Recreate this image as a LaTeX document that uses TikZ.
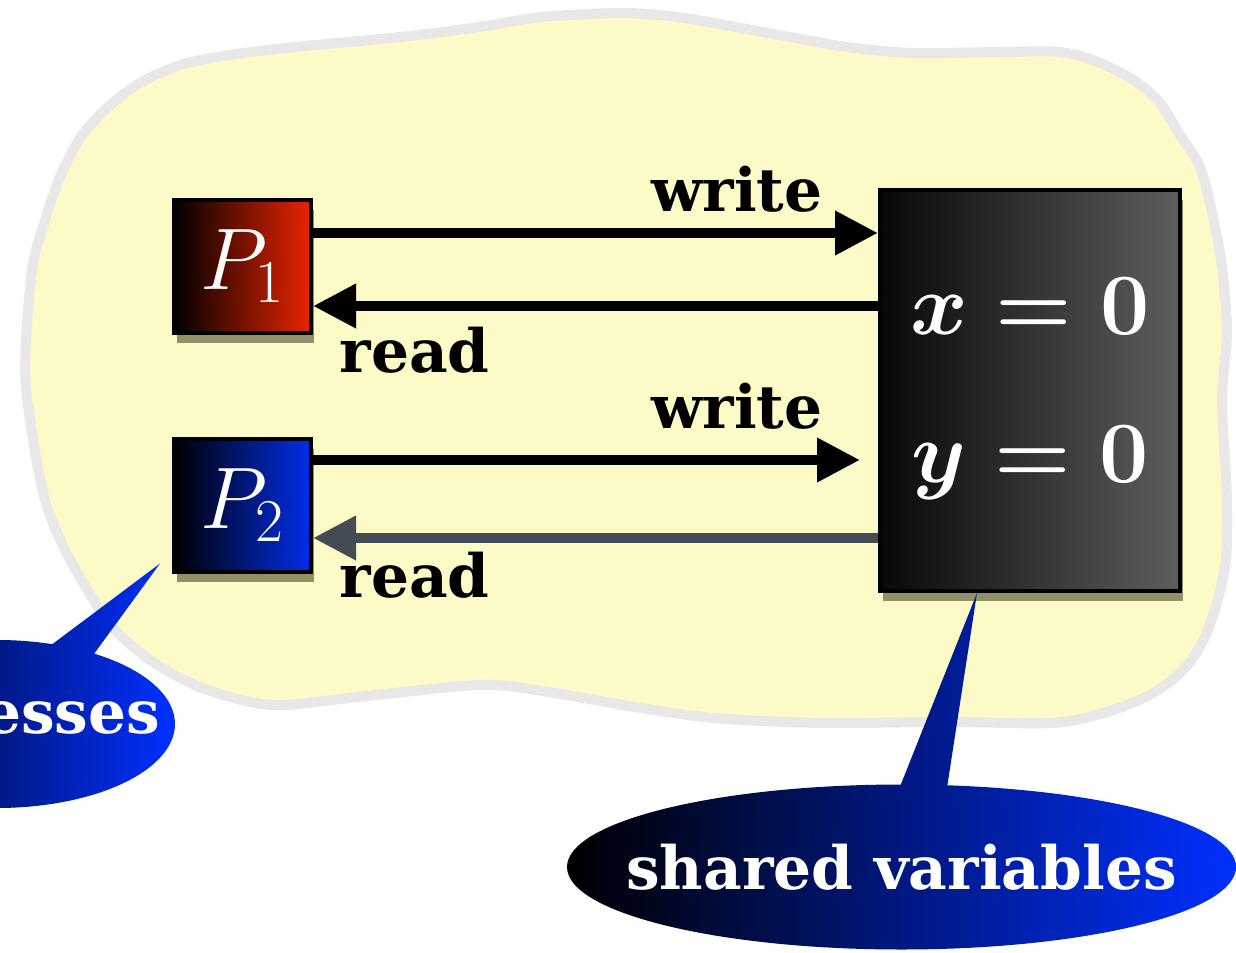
\documentclass[tikz,border=0pt]{standalone}
\usepackage{fontspec}
\newfontfamily\slabfont{DejaVu Serif}
\usepackage{tikz}
\usetikzlibrary{arrows.meta}
\usetikzlibrary{shapes.callouts}
\usetikzlibrary{shadows}
\usetikzlibrary{calc}
\definecolor{blobfill}{RGB}{252,250,198}
\definecolor{blobedge}{RGB}{232,232,232}
\definecolor{pred}{RGB}{234,36,0}
\definecolor{pblue}{RGB}{0,46,235}
\definecolor{memgray}{RGB}{94,94,94}
\definecolor{readgray}{RGB}{67,76,85}
\definecolor{bubbleblue}{RGB}{0,48,255}
\definecolor{shadowtone}{RGB}{60,58,30}

\begin{document}
\begin{tikzpicture}[
    boxshadow/.style={drop shadow={opacity=0.55, fill=shadowtone, shadow xshift=0.03cm, shadow yshift=-0.1cm}},
    proc/.style={draw=black, line width=0.04cm, minimum width=1.37cm, minimum height=1.33cm, inner sep=0pt,
                 text=white, font=\fontsize{25}{28}\selectfont, boxshadow},
    val/.style={anchor=base, inner sep=0pt, text=white, font=\fontsize{24}{28}\selectfont\boldmath},
    arr/.style={line width=0.1cm, -{Triangle[length=0.43cm, width=0.42cm]}},
    lbl/.style={anchor=base, inner sep=0pt, font=\slabfont\bfseries\fontsize{17}{20}\selectfont},
    bubble/.style={ellipse callout, inner sep=0pt, text=white, left color=black, right color=bubbleblue,
                   font=\slabfont\bfseries\fontsize{17}{20}\selectfont}
]
                 \useasboundingbox (0,0) rectangle (12.36,9.52);
                 \clip (0,0) rectangle (12.36,9.52);
                 \draw[blobedge, fill=blobfill, line width=0.1cm] plot[smooth cycle, tension=0.5] coordinates {
                     (0.32,6.82) (0.45,7.32) (0.60,7.75) (0.80,8.14) (1.07,8.44) (1.40,8.69) (1.87,8.89)
                     (2.67,9.02) (4.00,9.15) (4.79,9.25) (5.42,9.35) (6.21,9.39) (6.77,9.35) (7.36,9.25)
                     (7.95,9.14) (8.55,9.04) (9.14,8.99) (10.00,9.00) (10.60,9.00) (10.98,8.90) (11.35,8.71)
                     (11.60,8.49) (11.80,8.17) (12.00,7.85) (12.13,7.35) (12.22,6.85) (12.27,6.19) (12.22,5.52)
                     (12.27,4.52) (12.25,3.85) (12.08,3.22) (11.85,2.84) (11.50,2.57) (11.00,2.38) (10.50,2.29)
                     (9.48,2.30) (8.20,2.29) (7.14,2.34) (6.35,2.45) (5.36,2.62) (4.77,2.67) (3.58,2.55)
                     (2.71,2.47) (2.02,2.64) (1.53,2.90) (1.17,3.20) (0.91,3.56) (0.64,4.04) (0.45,4.52)
                     (0.32,5.19) (0.25,5.85)};
                 \node[proc, left color=black, right color=pred] (p1) at (2.425,6.855) {$P_1$};
                 \node[proc, left color=black, right color=pblue] (p2) at (2.425,4.47) {$P_2$};
                 \node[draw=black, line width=0.04cm, minimum width=3.0cm, minimum height=4.01cm,
                       left color=black!97, right color=memgray, boxshadow] (mem) at (10.30,5.615) {};
                 \node[val] (xv) at ([yshift=0.555cm]mem.center) {$x=0$};
                 \node[val] (yv) at ([yshift=-0.915cm]mem.center) {$y=0$};
                 \coordinate (w1) at ([yshift=0.335cm]p1.east);
                 \coordinate (r1) at ([yshift=-0.395cm]p1.east);
                 \coordinate (w2) at ([yshift=0.45cm]p2.east);
                 \coordinate (r2) at ([yshift=-0.33cm]p2.east);
                 \draw[arr] (w1) -- (w1 -| mem.west) node[lbl, pos=0.75, yshift=0.21cm] {write};
                 \draw[arr] (r1 -| mem.west) -- (r1) node[lbl, pos=0.82, yshift=-0.66cm] {read};
                 \draw[arr, shorten >=0.18cm] (w2) -- (w2 -| mem.west) node[lbl, pos=0.75, yshift=0.32cm] {write};
                 \draw[arr, readgray] (r2 -| mem.west) -- (r2) node[lbl, text=black, pos=0.82, yshift=-0.59cm] {read};
                 \node[bubble, minimum width=6.69cm, minimum height=1.65cm, callout pointer arc=8,
                       callout absolute pointer={([xshift=-0.53cm]mem.south)}] (shv) at (9.015,0.85) {\makebox[0pt]{shared variables}};
                 \node[bubble, minimum width=3.56cm, minimum height=1.68cm, callout pointer arc=15,
                       callout absolute pointer={([xshift=-0.12cm,yshift=0.1cm]p2.south west)}] (prc) at (-0.03,2.28) {\makebox[0pt]{processes}};
            \end{tikzpicture}
\end{document}
